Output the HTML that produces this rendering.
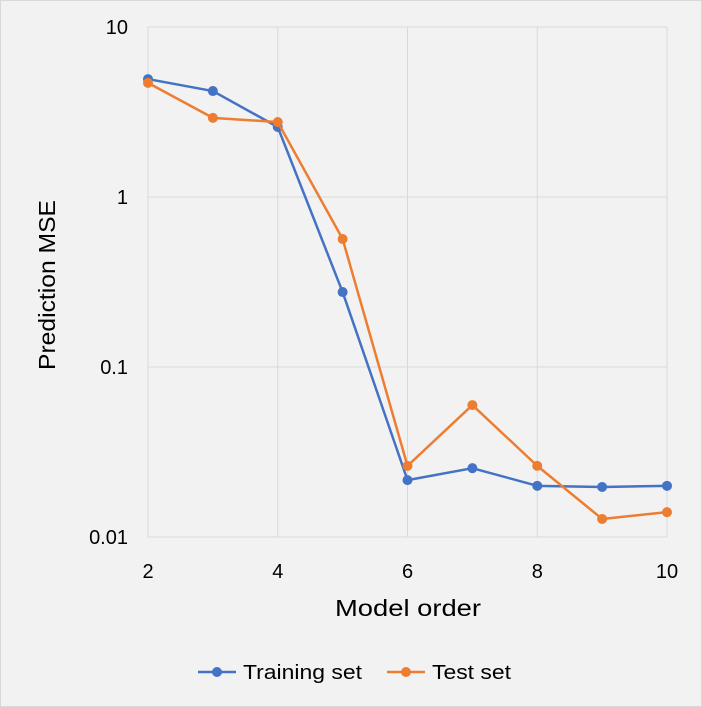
<!DOCTYPE html>
<html><head><meta charset="utf-8"><style>
body{margin:0;background:#fff}
svg{display:block;font-family:"Liberation Sans",Arial,sans-serif}
</style></head><body>
<svg id="chart" width="702" height="707">
<rect x="0.5" y="0.5" width="701" height="706" fill="#f2f2f2" stroke="#d9d9d9"/>
<g id="grid"></g><g id="series"></g><g id="labels"></g>
<text x="55" y="285" transform="rotate(-90 55 285)" text-anchor="middle" font-size="23" textLength="170" lengthAdjust="spacingAndGlyphs" fill="#000">Prediction MSE</text>
<text x="408" y="616" text-anchor="middle" font-size="23" textLength="146" lengthAdjust="spacingAndGlyphs" fill="#000">Model order</text>
<g>
<g><line x1="198" y1="672" x2="236" y2="672" stroke="#4472c4" stroke-width="2.5"/><circle cx="217" cy="672" r="5" fill="#4472c4"/><text x="243" y="679" font-size="20" textLength="119" lengthAdjust="spacingAndGlyphs">Training set</text></g>
<g><line x1="387" y1="672" x2="425" y2="672" stroke="#ed7d31" stroke-width="2.5"/><circle cx="406" cy="672" r="5" fill="#ed7d31"/><text x="432" y="679" font-size="20" textLength="79" lengthAdjust="spacingAndGlyphs">Test set</text></g>
</g>
</svg>
<script>
const orders=[2,3,4,5,6,7,8,9,10];
const trainMSE=[4.94,4.2,2.58,0.276,0.0216,0.0254,0.02,0.0197,0.02];
const testMSE=[4.69,2.92,2.76,0.566,0.0262,0.0597,0.0262,0.01277,0.014];
const xTicks=[2,4,6,8,10];
const yTicks=[10,1,0.1,0.01];
const yTickLabels=["10","1","0.1","0.01"];
const NS="http://www.w3.org/2000/svg";
const x=v=>148+(v-2)*(667-148)/8;
const y=v=>27+(1-Math.log10(v))*170;
function mk(t,a,p){const e=document.createElementNS(NS,t);for(const k in a)e.setAttribute(k,a[k]);p.appendChild(e);return e;}
const grid=document.getElementById('grid'),lab=document.getElementById('labels'),ser=document.getElementById('series');
xTicks.forEach(t=>{
 const l=mk('line',{x1:x(t),x2:x(t),y1:27,y2:537,stroke:'#d9d9d9','stroke-width':1},grid);
 
 
 const tx=mk('text',{x:x(t),y:578,'text-anchor':'middle','font-size':20,fill:'#000'},lab);tx.textContent=t;
 
 
});
yTicks.forEach((t,i)=>{
 const l=mk('line',{x1:148,x2:667,y1:y(t),y2:y(t),stroke:'#d9d9d9','stroke-width':1},grid);
 
 
 const tx=mk('text',{x:128,y:y(t)+7,'text-anchor':'end','font-size':20,fill:'#000'},lab);tx.textContent=yTickLabels[i];
 
 
});
function draw(vals,color,name){
 const g=mk('g',{},ser);
 
 
 const pl=mk('polyline',{points:vals.map((v,i)=>x(orders[i])+','+y(v)).join(' '),fill:'none',stroke:color,'stroke-width':2.5,'stroke-linejoin':'round'},g);
 
 
 vals.forEach((v,i)=>{
  const c=mk('circle',{cx:x(orders[i]),cy:y(v),r:5,fill:color},g);
  
  
 });
}
draw(trainMSE,'#4472c4','training');
draw(testMSE,'#ed7d31','test');
</script>
</body></html>
